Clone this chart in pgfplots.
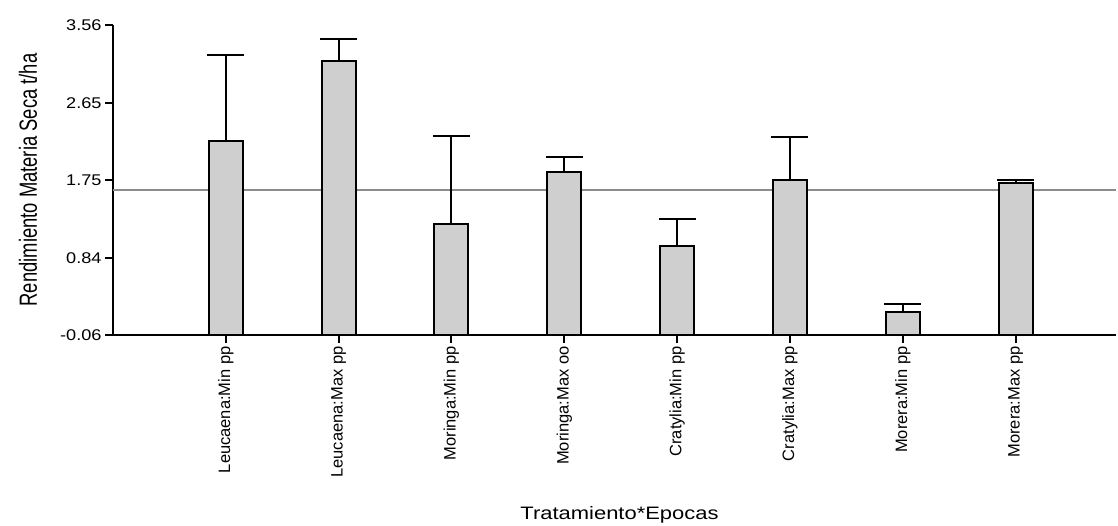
\documentclass[border=0pt]{standalone}
\usepackage{fontspec}
\setmainfont{Liberation Sans}
\newfontfamily\tickfont[FakeStretch=1.17]{Liberation Sans}
\newfontfamily\labfont[FakeStretch=1.22]{Liberation Sans}
\usepackage{graphicx}
\usepackage{pgfplots}
\pgfplotsset{compat=1.18}
\definecolor{barfill}{RGB}{207,207,207}
\definecolor{meanline}{RGB}{140,140,140}
\pgfplotstableread{
x y e
1 2.21 1.00
2 3.14 0.26
3 1.24 1.02
4 1.84 0.18
5 0.98 0.31
6 1.75 0.50
7 0.21 0.09
8 1.71 0.04
}\datatable
\begin{document}
\begin{tikzpicture}
\useasboundingbox (0,0) rectangle (1118pt,525pt);
\begin{axis}[
  at={(113pt,190pt)}, anchor=south west,
  scale only axis, width=1003pt, height=310pt,
  xmin=0, xmax=8.89, ymin=-0.06, ymax=3.56,
  y coord trafo/.code={\pgfmathparse{#1+0.06}},
  y coord inv trafo/.code={\pgfmathparse{#1-0.06}},
  axis x line=bottom, axis y line=left,
  axis line style={line width=2pt, -},
  xtick={1,...,8},
  xticklabels={Leucaena:Min pp, Leucaena:Max pp, Moringa:Min pp, Moringa:Max oo, Cratylia:Min pp, Cratylia:Max pp, Morera:Min pp, Morera:Max pp},
  ytick={-0.06,0.84,1.75,2.65,3.56},
  yticklabels={-0.06,0.84,1.75,2.65,3.56},
  /pgf/number format/assume math mode=true,
  tick align=outside, major tick length=8pt,
  tick style={line width=2pt, black},
  yticklabel style={font=\fontsize{15.5}{18}\tickfont, anchor=east},
  xticklabel style={font=\fontsize{16.5}{19}\selectfont, rotate=90, anchor=east},
  ylabel={\scalebox{1}[1.35]{Rendimiento Materia Seca t/ha}},
  every axis y label/.style={at={(axis description cs:-0.0758,0.5)}, rotate=90, anchor=base, font=\fontsize{18.4}{21}\selectfont},
  xlabel={Tratamiento*Epocas},
  every axis x label/.style={at={(axis description cs:0.505,-0.58)}, anchor=center, font=\fontsize{18}{21}\labfont},
  clip=false,
]
\addplot[meanline, line width=1.7pt, forget plot] coordinates {(0,1.63) (8.89,1.63)};
\addplot[ybar, bar width=34pt, bar shift=0pt, fill=barfill, draw=black, line width=2pt,
  error bars/.cd, y dir=plus, y explicit, error mark=|,
  error bar style={line width=2pt, black},
  error mark options={line width=2pt, mark size=18.5pt, black}]
  table[x=x, y=y, y error=e] {\datatable};
\end{axis}
\end{tikzpicture}
\end{document}
